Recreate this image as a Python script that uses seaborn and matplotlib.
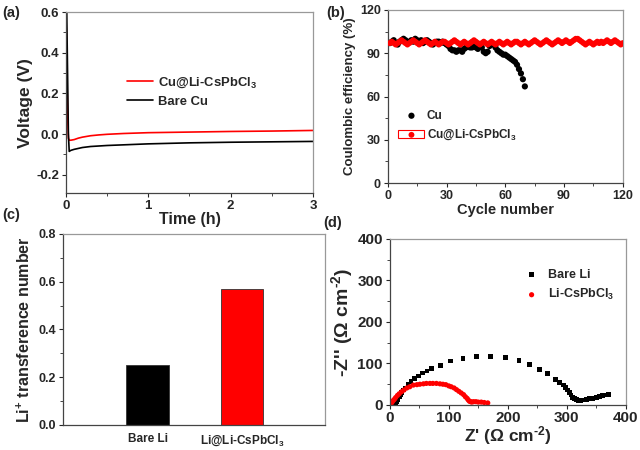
import numpy as np
import pandas as pd
import matplotlib
matplotlib.use('Agg')
import matplotlib.pyplot as plt
from matplotlib.ticker import MultipleLocator
from matplotlib.patches import Patch
from matplotlib.legend_handler import HandlerTuple
import seaborn as sns

sns.set_style('ticks')
plt.rcParams['font.family'] = ['Liberation Sans', 'DejaVu Sans']
plt.rcParams['font.weight'] = 'bold'
plt.rcParams['axes.labelweight'] = 'bold'
plt.rcParams['mathtext.fontset'] = 'custom'
plt.rcParams['mathtext.rm'] = 'Liberation Sans:bold'
plt.rcParams['mathtext.bf'] = 'Liberation Sans:bold'
plt.rcParams['mathtext.it'] = 'Liberation Sans:bold'
plt.rcParams['mathtext.default'] = 'bf'

# (a) voltage vs time
t_red = [0, 0.005, 0.01, 0.02, 0.03, 0.04, 0.06, 0.1, 0.15, 0.2, 0.3, 0.4, 0.5, 0.7, 1.0, 1.5, 2.0, 2.5, 3.0]
v_red = [0.6, 0.5, 0.35, 0.1, -0.02, -0.03, -0.03, -0.027, -0.02, -0.015, -0.008, -0.004, -0.001, 0.003, 0.007, 0.01, 0.013, 0.015, 0.018]
t_black = [0, 0.01, 0.02, 0.03, 0.04, 0.06, 0.1, 0.2, 0.3, 0.5, 0.75, 1.0, 1.5, 2.0, 2.5, 3.0]
v_black = [0.6, 0.6, 0.3, 0.0, -0.085, -0.08, -0.075, -0.066, -0.061, -0.056, -0.052, -0.048, -0.043, -0.04, -0.038, -0.036]

# (b) coulombic efficiency
ce_cu = [97, 98, 99, 97, 96, 98, 99, 100, 99, 97,
         98, 99, 98, 100, 99, 98, 99, 97, 98, 99,
         98, 97, 96, 97, 98, 98, 97, 98, 97, 96,
         95, 93, 92, 92, 91, 92, 92, 91, 93, 94,
         95, 94, 94, 95, 94, 93, 95, 94, 91, 90,
         91, 95, 97, 96, 94, 92, 91, 90, 89, 89,
         88, 87, 86, 85, 84, 82, 79, 76, 72, 67]
ce_csp = [97, 98, 97, 96, 97, 98, 99, 98, 97, 96,
          97, 98, 99, 98, 97, 96, 97, 98, 99, 98,
          97, 96, 97, 98, 97, 96, 97, 98, 98, 97,
          96, 97, 98, 99, 98, 97, 96, 97, 98, 97,
          96, 97, 98, 99, 98, 97, 96, 97, 98, 97,
          96, 97, 98, 97, 96, 97, 98, 97, 96, 97,
          98, 97, 96, 97, 98, 98, 97, 96, 97, 98,
          97, 96, 97, 98, 99, 98, 97, 96, 97, 98,
          99, 98, 97, 96, 97, 98, 99, 98, 97, 98,
          99, 98, 97, 98, 99, 100, 100, 99, 98, 97,
          96, 97, 98, 97, 96, 97, 98, 97, 98, 97,
          98, 99, 98, 97, 98, 99, 98, 97, 96, 97]

# (c) transference number
tn_cats = ['Bare Li', 'Li@Li-CsPbCl$_3$']
tn_vals = [0.25, 0.57]

# (d) EIS
zr_bare = [8, 9, 10, 11, 12, 13, 14, 16, 18, 20, 23, 26, 31, 36, 42, 49, 56, 63, 71, 86, 103, 124, 147, 171, 196,
           219, 237, 253, 267, 281, 288, 294, 298, 301, 304, 307, 310, 313, 316, 320, 324, 328, 333, 338, 344,
           350, 355, 361, 366, 371]
zi_bare = [0, 2, 5, 8, 11, 14, 17, 21, 26, 30, 36, 41, 49, 56, 64, 70, 77, 82, 88, 96, 106, 112, 117, 117, 114,
           108, 98, 86, 75, 62, 55, 48, 42, 36, 30, 24, 19, 15, 13, 11, 11, 12, 13, 15, 16,
           18, 20, 22, 24, 26]
zr_li = [2, 4, 6, 8, 10, 13, 16, 20, 24, 29, 34, 40, 46, 51, 57, 62, 68, 73, 79, 85, 90, 95, 100, 104, 109,
         113, 117, 121, 125, 128, 131, 133, 135, 137, 139, 142, 146, 150, 155, 160, 166]
zi_li = [3, 7, 11, 14, 18, 23, 27, 32, 36, 41, 44, 48, 49, 50, 51, 52, 52, 52, 52, 51, 50, 49, 46, 44, 41,
         37, 33, 29, 25, 20, 16, 12, 9, 8, 7, 8, 8, 7, 7, 6, 5]

fig = plt.figure(figsize=(6.4, 4.5), dpi=100)
ax_a = fig.add_axes([0.103, 0.571, 0.386, 0.402])
ax_b = fig.add_axes([0.606, 0.593, 0.367, 0.385])
ax_c = fig.add_axes([0.098, 0.056, 0.410, 0.424])
ax_d = fig.add_axes([0.609, 0.100, 0.369, 0.369])


def style(ax, tsize):
    for s in ['left', 'bottom']:
        ax.spines[s].set_color('#444444')
    for s in ['top', 'right']:
        ax.spines[s].set_color('#999999')
    for s in ax.spines.values():
        s.set_linewidth(0.9)
    ax.tick_params(which='major', length=3, width=0.8, labelsize=tsize, pad=2)
    ax.tick_params(which='minor', length=2, width=0.6)
    for lab in ax.get_xticklabels() + ax.get_yticklabels():
        lab.set_fontweight('bold')


# (a)
sns.lineplot(x=t_red, y=v_red, color='red', lw=1.2, ax=ax_a, label='Cu@Li-CsPbCl$_3$')
sns.lineplot(x=t_black, y=v_black, color='black', lw=1.2, ax=ax_a, label='Bare Cu')
ax_a.set_xlim(0, 3)
ax_a.set_ylim(-0.29, 0.6)
ax_a.xaxis.set_major_locator(MultipleLocator(1))
ax_a.xaxis.set_minor_locator(MultipleLocator(0.5))
ax_a.yaxis.set_minor_locator(MultipleLocator(0.1))
ax_a.set_yticks([-0.2, 0.0, 0.2, 0.4, 0.6])
ax_a.set_yticklabels(['-0.2', '0.0', '0.2', '0.4', '0.6'])
ax_a.set_xlabel('Time (h)', fontsize=11.5, labelpad=0)
ax_a.set_ylabel('Voltage (V)', fontsize=12.5, labelpad=2)
ax_a.legend(loc='center left', bbox_to_anchor=(0.2, 0.56), frameon=False,
            handlelength=2.0, handletextpad=0.4, labelspacing=0.4, prop={'weight': 'bold', 'size': 9.4})
style(ax_a, 9.5)

# (b)
sns.scatterplot(x=np.arange(1, len(ce_cu) + 1), y=ce_cu, color='black', s=20, edgecolor='none',
                ax=ax_b, label='Cu', zorder=2)
sns.scatterplot(x=np.arange(1, len(ce_csp) + 1), y=ce_csp, color='red', s=18, edgecolor='none',
                ax=ax_b, label='Cu@Li-CsPbCl$_3$', zorder=3)
ax_b.set_xlim(0, 120)
ax_b.set_ylim(0, 120)
ax_b.xaxis.set_major_locator(MultipleLocator(30))
ax_b.xaxis.set_minor_locator(MultipleLocator(15))
ax_b.yaxis.set_major_locator(MultipleLocator(30))
ax_b.yaxis.set_minor_locator(MultipleLocator(15))
ax_b.set_xlabel('Cycle number', fontsize=10.5, labelpad=1)
ax_b.set_ylabel('Coulombic efficiency (%)', fontsize=9.5, labelpad=3)
h_b, l_b = ax_b.get_legend_handles_labels()
box = Patch(facecolor='none', edgecolor='red', linewidth=0.8)
ax_b.legend([h_b[0], (box, h_b[1])], l_b, handler_map={tuple: HandlerTuple(ndivide=1)},
            loc='center left', bbox_to_anchor=(0.0, 0.33), frameon=False, handletextpad=0.2,
            handlelength=2.2, labelspacing=0.5, prop={'weight': 'bold', 'size': 8.5})
style(ax_b, 9)

# (c)
sns.barplot(x=tn_cats, y=tn_vals, hue=tn_cats, palette=['black', 'red'], legend=False, saturation=1,
            width=0.45, edgecolor='#333333', linewidth=0.6, ax=ax_c)
ax_c.set_xlim(-0.9, 1.88)
ax_c.set_ylim(0, 0.8)
ax_c.yaxis.set_major_locator(MultipleLocator(0.2))
ax_c.yaxis.set_minor_locator(MultipleLocator(0.1))
ax_c.set_ylabel('Li$^{+}$ transference number', fontsize=11.5, labelpad=4)
style(ax_c, 9)
ax_c.tick_params(axis='x', length=0, pad=6, labelsize=8.5)

# (d)
sns.scatterplot(x=zr_bare, y=zi_bare, color='black', marker='s', s=12, edgecolor='none',
                ax=ax_d, label='Bare Li')
sns.scatterplot(x=zr_li, y=zi_li, color='red', marker='o', s=14, edgecolor='none',
                ax=ax_d, label='Li-CsPbCl$_3$')
ax_d.set_xlim(0, 400)
ax_d.set_ylim(0, 400)
ax_d.xaxis.set_major_locator(MultipleLocator(100))
ax_d.xaxis.set_minor_locator(MultipleLocator(50))
ax_d.yaxis.set_major_locator(MultipleLocator(100))
ax_d.yaxis.set_minor_locator(MultipleLocator(50))
ax_d.set_xlabel("Z' (\u03a9 cm$^{\u2010\\mathbf{2}}$)", fontsize=12.5, labelpad=0)
ax_d.set_ylabel("-Z'' (\u03a9 cm$^{\u2010\\mathbf{2}}$)", fontsize=14, labelpad=2)
ax_d.legend(loc='center left', bbox_to_anchor=(0.5, 0.72), frameon=False, handletextpad=0.3,
            labelspacing=0.5, prop={'weight': 'bold', 'size': 9})
style(ax_d, 11)
ax_d.tick_params(axis='x', pad=1)

for lbl, x, y in [('(a)', 0.003, 0.972), ('(b)', 0.51, 0.972), ('(c)', 0.003, 0.522), ('(d)', 0.505, 0.505)]:
    fig.text(x, y, lbl, fontsize=10.5, fontweight='bold', va='center', ha='left')

fig.savefig('out.png', dpi=100)
